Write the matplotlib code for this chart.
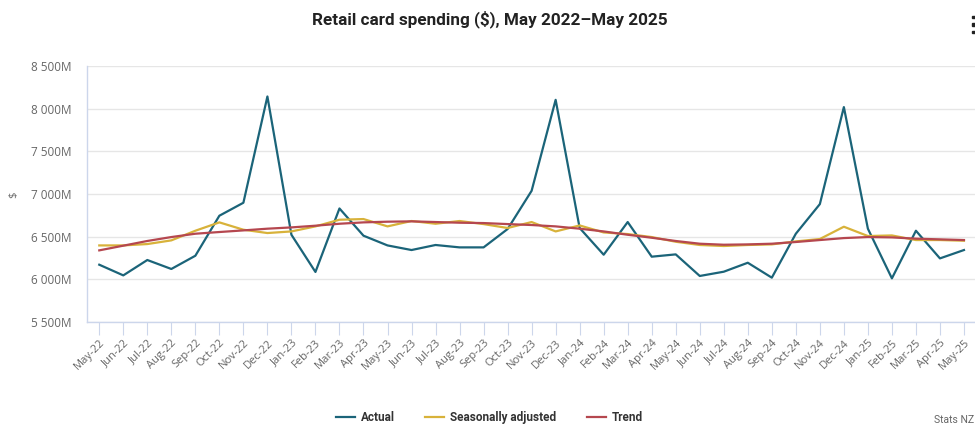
import matplotlib
matplotlib.use("Agg")
import matplotlib.pyplot as plt
from matplotlib.ticker import FuncFormatter, FixedLocator
from matplotlib.patches import Rectangle

months = ["May-22", "Jun-22", "Jul-22", "Aug-22", "Sep-22", "Oct-22", "Nov-22", "Dec-22",
          "Jan-23", "Feb-23", "Mar-23", "Apr-23", "May-23", "Jun-23", "Jul-23", "Aug-23",
          "Sep-23", "Oct-23", "Nov-23", "Dec-23", "Jan-24", "Feb-24", "Mar-24", "Apr-24",
          "May-24", "Jun-24", "Jul-24", "Aug-24", "Sep-24", "Oct-24", "Nov-24", "Dec-24",
          "Jan-25", "Feb-25", "Mar-25", "Apr-25", "May-25"]

actual = [6172, 6047, 6227, 6122, 6277, 6746, 6898, 8143, 6523, 6087, 6831, 6512,
          6398, 6344, 6403, 6375, 6375, 6590, 7038, 8104, 6602, 6289, 6672, 6266,
          6293, 6040, 6090, 6195, 6020, 6535, 6882, 8019, 6594, 6012, 6570, 6246, 6344]

seasonally_adjusted = [6398, 6398, 6414, 6457, 6570, 6668, 6582, 6543, 6562, 6621, 6699, 6707,
                       6621, 6684, 6652, 6684, 6648, 6602, 6672, 6562, 6632, 6550, 6531, 6496,
                       6441, 6403, 6391, 6403, 6410, 6445, 6473, 6617, 6508, 6515, 6461, 6461, 6453]

trend = [6340, 6395, 6450, 6496, 6535, 6555, 6574, 6594, 6609, 6629, 6652, 6668,
         6676, 6680, 6672, 6664, 6660, 6648, 6637, 6621, 6594, 6562, 6523, 6488,
         6450, 6418, 6406, 6410, 6418, 6438, 6461, 6484, 6496, 6492, 6477, 6469, 6461]

series_names = ["Actual", "Seasonally adjusted", "Trend"]
series_colors = ["#1b6479", "#d8b23a", "#b5474f"]
y_ticks = [5500, 6000, 6500, 7000, 7500, 8000, 8500]

title = "Retail card spending ($), May 2022\u2013May 2025"

fig = plt.figure(figsize=(9.75, 4.26), dpi=100)
ax = fig.add_axes([0.0895, 0.244, 0.9115, 0.601])

x = list(range(len(months)))
lines = []
for vals, name, col in zip([actual, seasonally_adjusted, trend], series_names, series_colors):
    ln, = ax.plot(x, vals, color=col, lw=1.6, label=name, solid_joinstyle="round", zorder=3)
    lines.append(ln)

ax.set_xlim(-0.5, len(months) - 0.5)
ax.set_ylim(5500, 8500)
ax.yaxis.set_major_locator(FixedLocator(y_ticks))
ax.yaxis.set_major_formatter(FuncFormatter(lambda v, p: f"{int(v):,}M".replace(",", " ")))
ax.grid(axis="y", color="#e6e6e6", lw=1)
ax.set_axisbelow(True)

for s in ["top", "right"]:
    ax.spines[s].set_visible(False)
ax.spines["left"].set_color("#ccd6eb")
ax.spines["bottom"].set_color("#ccd6eb")
ax.spines["left"].set_linewidth(1)
ax.spines["bottom"].set_linewidth(1)

ax.set_xticks(x)
ax.set_xticklabels(months, rotation=45, ha="right", va="top", rotation_mode="anchor",
                   fontsize=8, color="#666666", family="Open Sans")
ax.tick_params(axis="x", length=9, color="#ccd6eb", pad=2)
ax.tick_params(axis="y", length=0, pad=11, labelsize=8.5, labelcolor="#666666")
for lbl in ax.get_yticklabels():
    lbl.set_family("Open Sans")

fig.text(14 / 975, 1 - 195 / 426, "$", rotation=90, ha="center", va="center",
         fontsize=8, color="#666666", family="Open Sans")

fig.text(0.502, 0.955, title, ha="center", va="center", fontsize=12.3,
         fontweight="bold", family="Roboto", color="#222222")

leg = fig.legend(handles=lines, labels=series_names, loc="center", bbox_to_anchor=(0.502, 0.02),
                 ncol=3, frameon=False, handlelength=1.6, handletextpad=0.5, columnspacing=2.6,
                 prop={"family": "Roboto", "weight": "bold", "size": 8.5})
for t in leg.get_texts():
    t.set_color("#333333")

fig.text(0.999, 0.014, "Stats NZ", ha="right", va="center", fontsize=7.5,
         color="#666666", family="Roboto")

for ypx in [17, 24.5, 32]:
    fig.patches.append(Rectangle((971.5 / 975, 1 - (ypx + 1.4) / 426), 4 / 975, 2.8 / 426,
                                 transform=fig.transFigure, color="#222222", zorder=5))

fig.savefig("out.png", dpi=100)
